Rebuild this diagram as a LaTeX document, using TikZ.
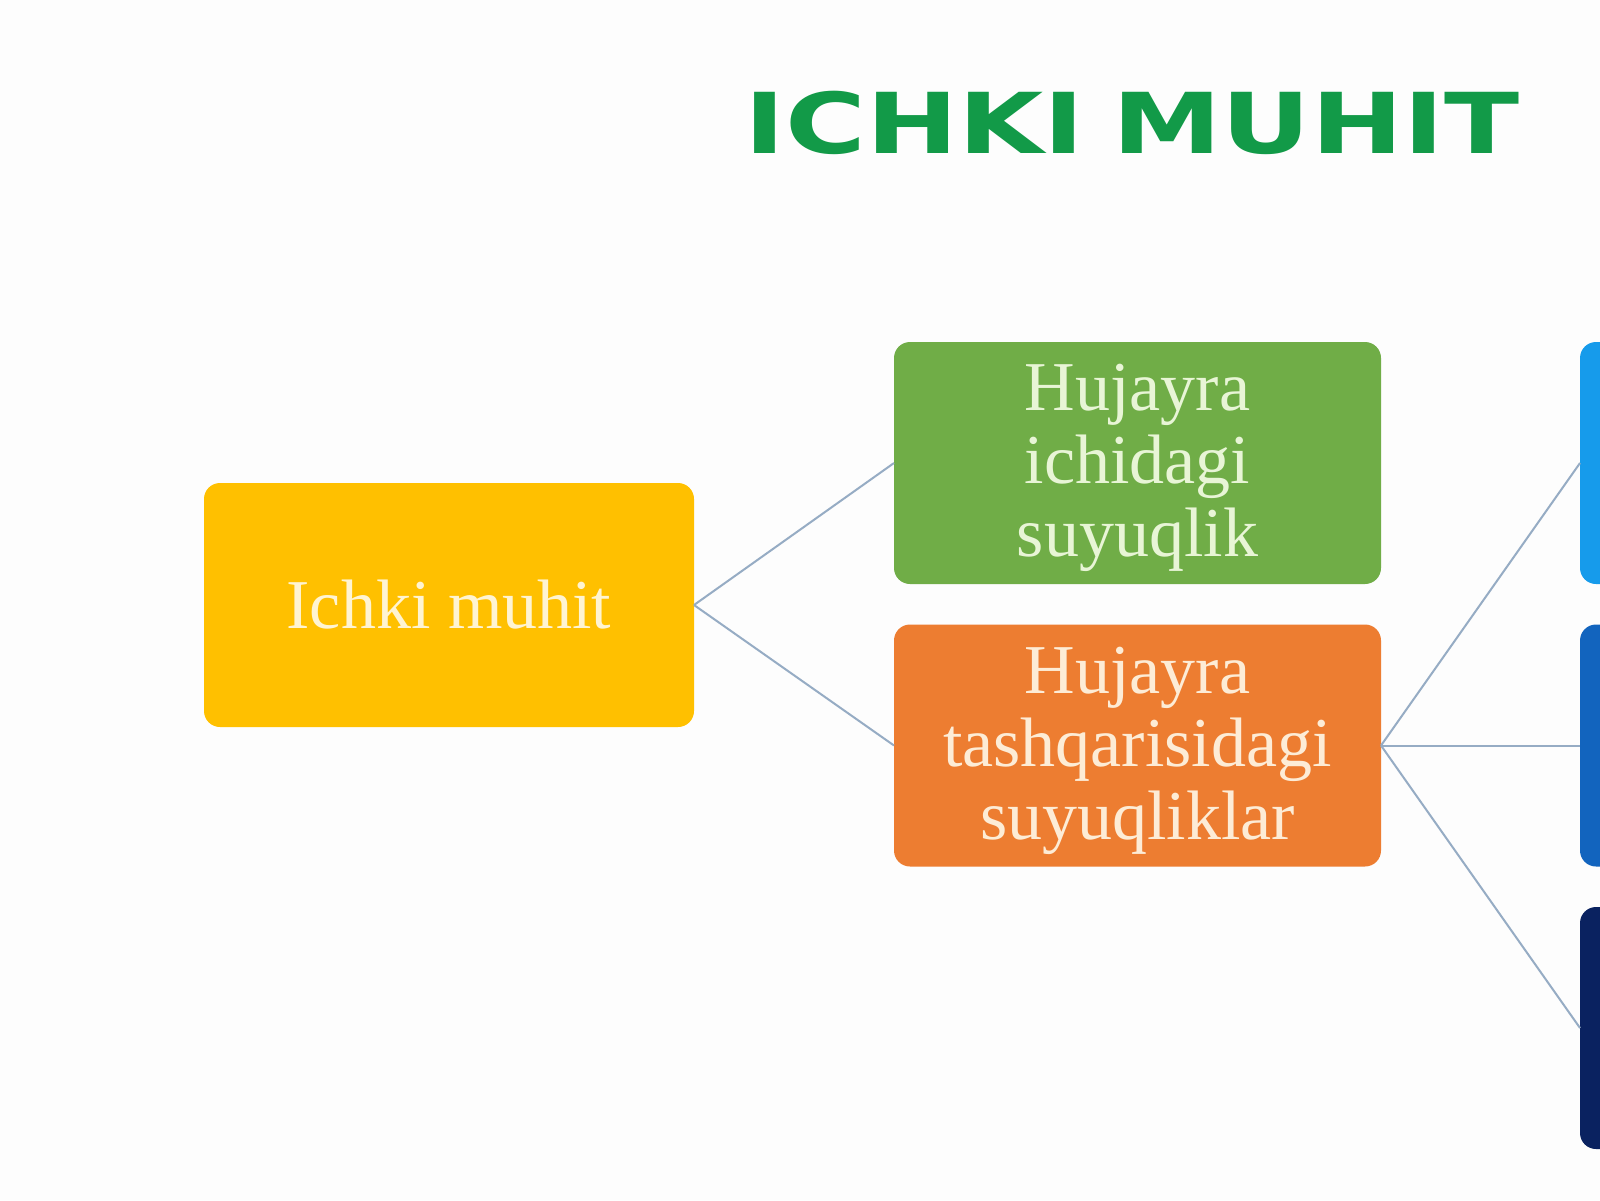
\documentclass[tikz,border=0pt]{standalone}
\usepackage{fontspec}
\setmainfont{Liberation Serif}
\newfontfamily\titlefont{DejaVu Sans}
\definecolor{bgc}{RGB}{253,253,253}
\definecolor{titlegreen}{RGB}{18,154,72}
\definecolor{yelbox}{RGB}{255,192,0}
\definecolor{grnbox}{RGB}{112,173,71}
\definecolor{orgbox}{RGB}{237,125,49}
\definecolor{blueA}{RGB}{22,155,235}
\definecolor{blueB}{RGB}{18,100,190}
\definecolor{blueC}{RGB}{10,34,96}
\definecolor{yeltxt}{RGB}{255,244,210}
\definecolor{grntxt}{RGB}{232,245,214}
\definecolor{orgtxt}{RGB}{253,236,214}
\definecolor{linec}{RGB}{150,172,196}
\begin{document}
\begin{tikzpicture}[x=0.5pt,y=-0.5pt,
  card/.style={rounded corners=8pt, inner sep=0pt, outer sep=0pt,
    minimum width=243.5pt, minimum height=121pt},
  cardtext/.style={inner sep=0pt, align=center,
    font=\fontsize{35pt}{36.5pt}\selectfont},
  conn/.style={draw=linec, line width=1pt}]
\useasboundingbox (0,0) rectangle (1600,1200);
\clip (0,0) rectangle (1600,1200);
\fill[bgc] (0,0) rectangle (1600,1200);
\node[anchor=base, text=titlegreen, font=\titlefont\bfseries\fontsize{42pt}{42pt}\selectfont]
  (title) at (1132,153) {\scalebox{1.31}[1]{ICHKI\hspace{0.25em}MUHIT}};
\node[card, fill=yelbox, minimum width=245pt, minimum height=122pt] (yel) at (449,605) {};
\node[cardtext, text=yeltxt] (yelT) at (yel.center) {Ichki muhit};
\node[card, fill=grnbox] (grn) at (1137.5,463) {};
\node[cardtext, text=grntxt] (grnT) at ([yshift=-2.5pt]grn.center) {Hujayra\\ichidagi\\suyuqlik};
\node[card, fill=orgbox] (org) at (1137.5,745.5) {};
\node[cardtext, text=orgtxt] (orgT) at ([yshift=-2.5pt]org.center) {Hujayra\\tashqarisidagi\\suyuqliklar};
\node[card, fill=blueA] (b1) at (1823.5,463) {};
\node[card, fill=blueB] (b2) at (1823.5,745.5) {};
\node[card, fill=blueC] (b3) at (1823.5,1028) {};
\draw[conn] (yel.east) -- (grn.west);
\draw[conn] (yel.east) -- (org.west);
\draw[conn] (org.east) -- (b1.west);
\draw[conn] (org.east) -- (b2.west);
\draw[conn] (org.east) -- (b3.west);
\end{tikzpicture}
\end{document}
